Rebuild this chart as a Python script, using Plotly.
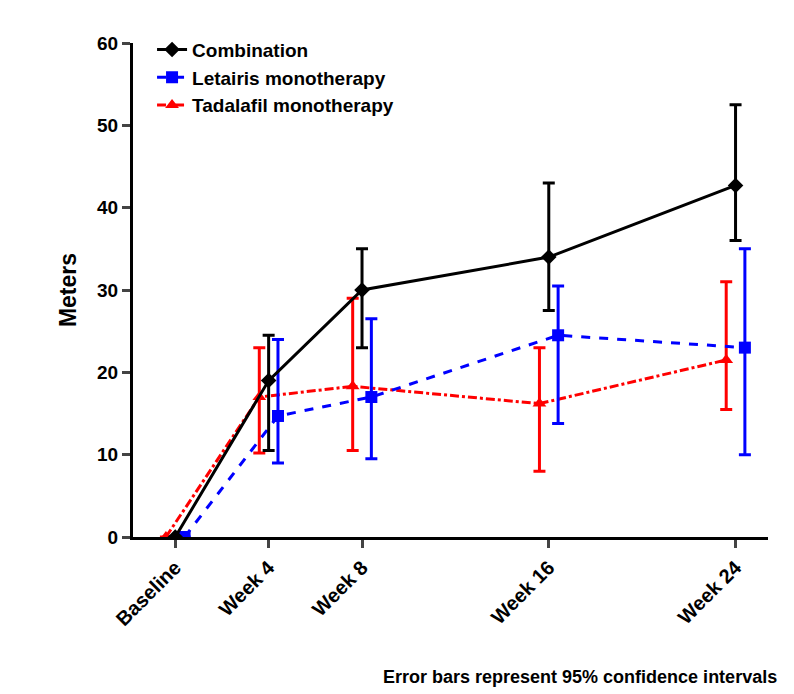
import plotly.graph_objects as go

weeks = [0, 4, 8, 16, 24]
tick_labels = ["Baseline", "Week 4", "Week 8", "Week 16", "Week 24"]

combo = [0, 19, 30, 34, 42.7]
combo_lo = [0, 10.5, 23, 27.5, 36]
combo_hi = [0, 24.5, 35, 43, 52.5]

letairis = [0, 14.7, 17, 24.5, 23]
letairis_lo = [0, 9, 9.5, 13.8, 10]
letairis_hi = [0, 24, 26.5, 30.5, 35]

tadalafil = [0, 17, 18.3, 16.2, 21.5]
tadalafil_lo = [0, 10.2, 10.5, 8, 15.5]
tadalafil_hi = [0, 23, 29, 23, 31]

fig = go.Figure()

def add_series(name, y, lo, hi, shift, color, dash, symbol):
    fig.add_trace(go.Scatter(
        x=[w + shift for w in weeks], y=y, name=name,
        mode="lines+markers",
        line=dict(color=color, width=3, dash=dash),
        marker=dict(symbol=symbol, size=12, color=color),
        error_y=dict(type="data", symmetric=False,
                     array=[h - v for h, v in zip(hi, y)],
                     arrayminus=[v - l for v, l in zip(y, lo)],
                     color=color, thickness=3, width=6),
    ))

add_series("Tadalafil monotherapy", tadalafil, tadalafil_lo, tadalafil_hi, -0.4, "#ff0000", "dashdot", "triangle-up")
add_series("Letairis monotherapy", letairis, letairis_lo, letairis_hi, 0.4, "#0000ff", "dash", "square")
add_series("Combination", combo, combo_lo, combo_hi, 0, "#000000", "solid", "diamond")

fig.update_layout(
    width=794, height=694,
    plot_bgcolor="white", paper_bgcolor="white",
    font=dict(family="Arial, Liberation Sans", size=17, color="black"),
    margin=dict(l=125, r=34, t=35, b=165),
    legend=dict(x=0.03, y=1.025, traceorder="reversed", bgcolor="rgba(0,0,0,0)",
                font=dict(size=19, weight="bold")),
    annotations=[dict(text="<b>Error bars represent 95% confidence intervals</b>",
                      xref="paper", yref="paper", x=1.018, y=-0.283,
                      xanchor="right", yanchor="middle", showarrow=False,
                      font=dict(size=18))],
)
fig.update_xaxes(range=[-1.81, 25.39], tickvals=weeks, ticktext=["<b>%s</b>" % t for t in tick_labels],
                 tickangle=-45, showgrid=False, zeroline=False, showline=True,
                 linecolor="black", linewidth=3, ticks="outside", ticklen=8, tickwidth=3,
                 tickfont=dict(size=20))
fig.update_yaxes(range=[0, 60], dtick=10, showgrid=False, zeroline=False, showline=True,
                 linecolor="black", linewidth=3, ticks="outside", ticklen=8, tickwidth=3,
                 tickfont=dict(size=19, weight="bold"),
                 title=dict(text="<b>Meters</b>", font=dict(size=23)))

fig.write_html("out.html")
